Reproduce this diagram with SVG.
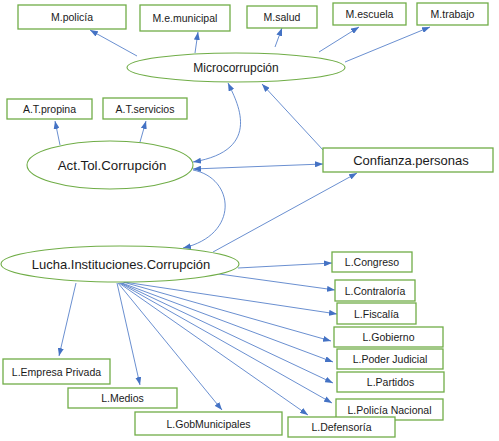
<svg xmlns="http://www.w3.org/2000/svg" width="499" height="441" viewBox="0 0 499 441">
<style>
.box{fill:#fff;stroke:#70AD47;stroke-width:1.3}
.ell{fill:#fff;stroke:#70AD47;stroke-width:1.1}
.t{font-family:"Liberation Sans",Arial,sans-serif;font-size:10.5px;fill:#1a1a1a;text-anchor:middle;dominant-baseline:central}
.tl{font-family:"Liberation Sans",Arial,sans-serif;font-size:13px;fill:#1a1a1a;text-anchor:middle;dominant-baseline:central}
.c{fill:none;stroke:#4472C4;stroke-width:0.8}
</style>
<defs>
<marker id="a" viewBox="0 0 8 6" refX="8" refY="3" markerWidth="8" markerHeight="6" markerUnits="userSpaceOnUse" orient="auto-start-reverse">
<path d="M0,0 L8,3 L0,6 Z" fill="#4472C4"/>
</marker>
</defs>
<rect width="499" height="441" fill="#fff"/>
<g id="connectors">
<path class="c" d="M137,56 L90,30" marker-end="url(#a)"/>
<path class="c" d="M195,53 L198,32" marker-end="url(#a)"/>
<path class="c" d="M275,47 L282,28" marker-end="url(#a)"/>
<path class="c" d="M319,52 L359,27" marker-end="url(#a)"/>
<path class="c" d="M345,62 L430,27" marker-end="url(#a)"/>
<path class="c" d="M60,145 L55,121" marker-end="url(#a)"/>
<path class="c" d="M140,142 L146,121" marker-end="url(#a)"/>
<path class="c" d="M193,162 C265,150 236,100 228,83" marker-start="url(#a)" marker-end="url(#a)"/>
<path class="c" d="M193,169 L323,164" marker-start="url(#a)" marker-end="url(#a)"/>
<path class="c" d="M323,150 L262,84" marker-end="url(#a)"/>
<path class="c" d="M213,252 L357,173" marker-end="url(#a)"/>
<path class="c" d="M193,170 C235,178 240,235 183,248" marker-end="url(#a)"/>
<path class="c" d="M238,268 L332,263" marker-end="url(#a)"/>
<path class="c" d="M212,273 L335,290" marker-end="url(#a)"/>
<path class="c" d="M124,282 L337,314" marker-end="url(#a)"/>
<path class="c" d="M123,282 L331,341" marker-end="url(#a)"/>
<path class="c" d="M122,283 L333,362" marker-end="url(#a)"/>
<path class="c" d="M121,283 L333,383" marker-end="url(#a)"/>
<path class="c" d="M120,283 L332,403" marker-end="url(#a)"/>
<path class="c" d="M119,283 L308,415" marker-end="url(#a)"/>
<path class="c" d="M118,283 L222,410" marker-end="url(#a)"/>
<path class="c" d="M117,283 L140,385" marker-end="url(#a)"/>
<path class="c" d="M76,283 L59,356" marker-end="url(#a)"/>
</g>
<g id="n-micro"><ellipse class="ell" cx="236" cy="67.5" rx="109" ry="14.5"/><text class="t" x="236" y="67.5" style="font-size:12px">Microcorrupción</text></g>
<g id="n-mpolicia"><rect class="box" x="18" y="5" width="108" height="24"/><text class="t" x="72" y="17">M.policía</text></g>
<g id="n-mmunicipal"><rect class="box" x="140" y="5" width="90" height="26"/><text class="t" x="185" y="18">M.e.municipal</text></g>
<g id="n-msalud"><rect class="box" x="247" y="6" width="70" height="22"/><text class="t" x="282" y="17">M.salud</text></g>
<g id="n-mescuela"><rect class="box" x="333" y="3" width="73" height="22"/><text class="t" x="369.5" y="14">M.escuela</text></g>
<g id="n-mtrabajo"><rect class="box" x="417" y="3" width="71" height="22"/><text class="t" x="452.5" y="14">M.trabajo</text></g>
<g id="n-atpropina"><rect class="box" x="7" y="99" width="85" height="20"/><text class="t" x="49.5" y="108.5">A.T.propina</text></g>
<g id="n-atservicios"><rect class="box" x="103" y="98" width="84" height="21"/><text class="t" x="145" y="109">A.T.servicios</text></g>
<g id="n-acttol"><ellipse class="ell" cx="110" cy="165" rx="83" ry="24"/><text class="tl" x="112" y="165" style="font-size:13.3px">Act.Tol.Corrupción</text></g>
<g id="n-confianza"><rect class="box" x="323" y="148" width="170" height="24"/><text class="tl" x="411" y="160">Confianza.personas</text></g>
<g id="n-lucha"><ellipse class="ell" cx="120" cy="264" rx="119" ry="18"/><text class="tl" x="121" y="264">Lucha.Instituciones.Corrupción</text></g>
<g id="n-lcongreso"><rect class="box" x="332" y="252" width="80" height="20"/><text class="t" x="372" y="262">L.Congreso</text></g>
<g id="n-lcontraloria"><rect class="box" x="335" y="280" width="80" height="21"/><text class="t" x="375" y="290.5">L.Contraloría</text></g>
<g id="n-lfiscalia"><rect class="box" x="337" y="303" width="79" height="21"/><text class="t" x="376.5" y="313.5">L.Fiscalía</text></g>
<g id="n-lgobierno"><rect class="box" x="334" y="327" width="109" height="20"/><text class="t" x="388.5" y="337">L.Gobierno</text></g>
<g id="n-lpoder"><rect class="box" x="337" y="349" width="106" height="20"/><text class="t" x="390" y="359">L.Poder Judicial</text></g>
<g id="n-lpartidos"><rect class="box" x="337" y="372" width="107" height="20"/><text class="t" x="390.5" y="382">L.Partidos</text></g>
<g id="n-lpolicia"><rect class="box" x="336" y="399" width="107" height="21"/><text class="t" x="389.5" y="409.5">L.Policía Nacional</text></g>
<g id="n-ldefensoria"><rect class="box" x="288" y="417" width="107" height="20"/><text class="t" x="341.5" y="427">L.Defensoría</text></g>
<g id="n-lgobmun"><rect class="box" x="135" y="412" width="147" height="23"/><text class="t" x="208.5" y="423.5">L.GobMunicipales</text></g>
<g id="n-lmedios"><rect class="box" x="68" y="388" width="109" height="20"/><text class="t" x="122.5" y="398">L.Medios</text></g>
<g id="n-lempresa"><rect class="box" x="3" y="359" width="107" height="25"/><text class="t" x="56.5" y="371.5">L.Empresa Privada</text></g>
</svg>
